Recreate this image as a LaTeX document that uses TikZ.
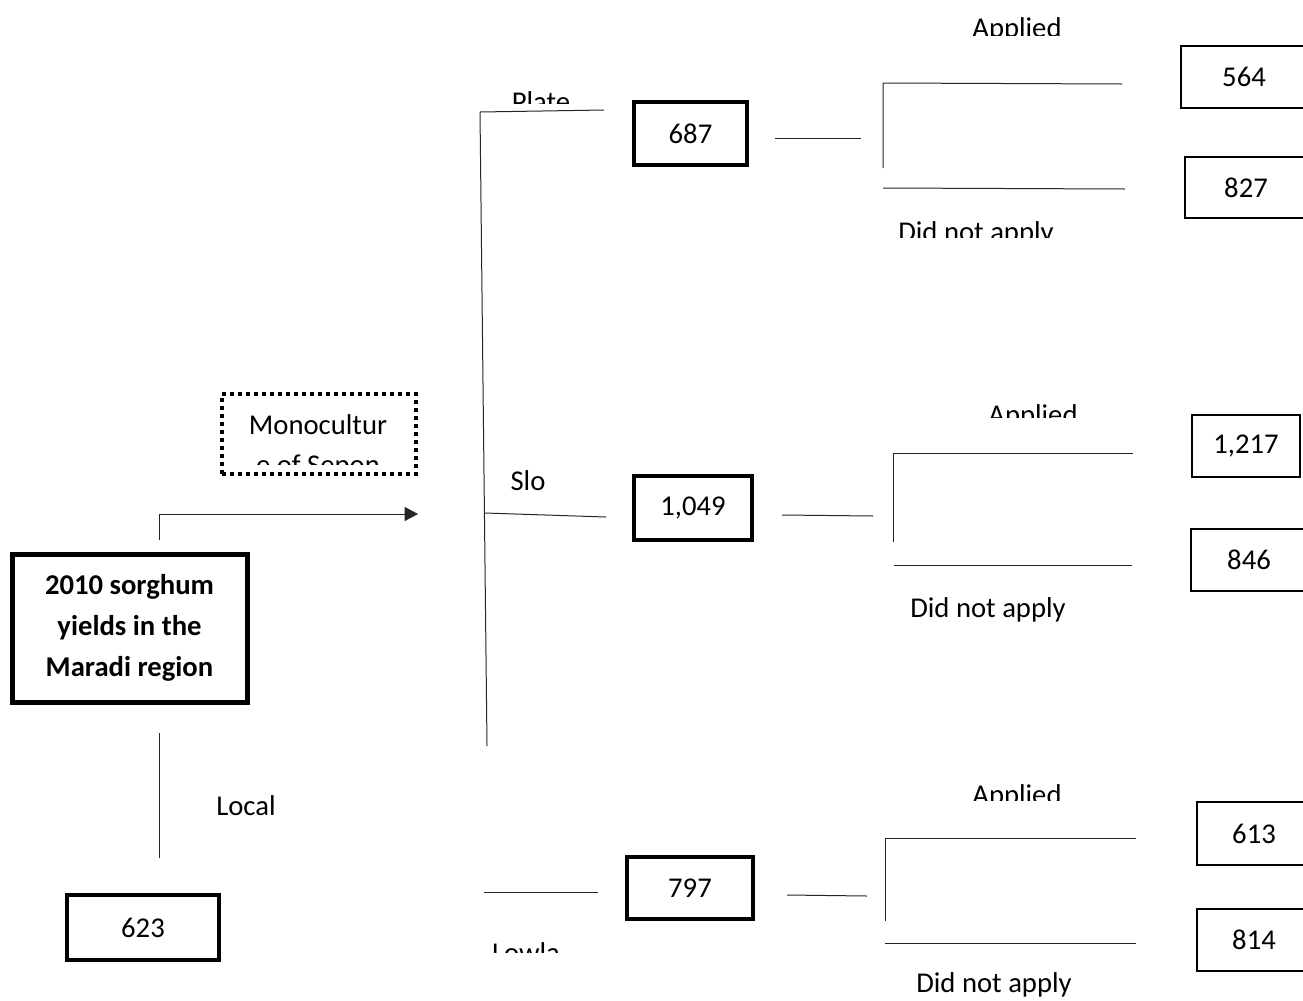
\documentclass[tikz,border=0pt]{standalone}
\usepackage{fontspec}
\setmainfont{Carlito}
\usetikzlibrary{arrows.meta,fit}
\begin{document}
\begin{tikzpicture}[x=0.75pt,y=-0.75pt,
  every node/.style={font=\fontsize{21.5}{30}\selectfont},
  every label/.style={inner sep=0pt, font=\fontsize{21.5}{30}\selectfont},
  thinline/.style={line width=0.75pt, draw=black!85},
  rbox/.style={draw, line width=2pt, inner sep=0pt},
  mbox/.style={draw, line width=3pt, inner sep=0pt},
  lab/.style={anchor=base, inner sep=0pt},
]
\useasboundingbox (0,0) rectangle (1303,1000);

% main box and its branches
\node (main) [draw, line width=3.75pt, inner sep=0pt, fit={(12,554) (247,702)},
  label={[align=center, font=\fontsize{21.5}{30.75}\selectfont\bfseries]center:2010 sorghum\\yields in the\\Maradi region}] {};
\node (b623) [mbox, line width=2.8pt, fit={(67,895) (219,960)}, label=center:623] {};
\coordinate (a0) at (159,540);
\coordinate (a1) at (418,514);
\draw[thinline,-{Triangle[length=10pt,width=10.5pt]}] (a0) |- (a1);
\coordinate (l0) at (159,733);
\coordinate (l1) at (159,858);
\draw[thinline] (l0) -- (l1);
\node (local) [lab] at (246,815) {Local};

% dotted box
\node (mono) [draw, line width=3pt, dash pattern=on 3pt off 3pt, inner sep=0pt, fit={(222,394) (416,474)}] {};
\node (monoA) [lab] at (318,434) {Monocultur};
\begin{scope}
\clip (226,440) rectangle (412,464);
\node (monoB) [lab] at (318,474) {e of Sepon};
\end{scope}

% trunk
\coordinate (t0) at (480,112);
\coordinate (t1) at (487,746);
\coordinate (p1) at (604,110);
\coordinate (s0) at (485,513);
\coordinate (s1) at (606,517);
\coordinate (w0) at (484,892);
\coordinate (w1) at (598,892);
\draw[thinline] (t0) -- (t1);
\draw[thinline] (t0) -- (p1);
\draw[thinline] (s0) -- (s1);
\draw[thinline] (w0) -- (w1);

\begin{scope}
\clip (490,80) rectangle (600,103);
\node (plate) [lab] at (541,111) {Plate};
\end{scope}
\node (slo) [lab] at (528,490) {Slo};
\begin{scope}
\clip (480,930) rectangle (600,952);
\node (lowla) [lab] at (526,962) {Lowla};
\end{scope}

% middle boxes
\node (b687) [mbox, line width=3pt, fit={(634,102) (747,165)}, label=center:687] {};
\node (b1049) [mbox, line width=2.6pt, fit={(634,476) (752,540)}, label=center:{1,049}] {};
\node (b797) [mbox, line width=3pt, fit={(627,857) (753,919)}, label=center:797] {};

% group 1
\coordinate (g1a) at (775,138); \coordinate (g1b) at (861,138);
\draw[thinline] (g1a) -- (g1b);
\coordinate (g1t) at (1122,84); \coordinate (g1c) at (883,83); \coordinate (g1d) at (883,168);
\draw[thinline] (g1t) -- (g1c) -- (g1d);
\coordinate (g1e) at (883,188); \coordinate (g1f) at (1125,189);
\draw[thinline] (g1e) -- (g1f);
\begin{scope}
\clip (940,0) rectangle (1100,35);
\node (ap1) [lab] at (1017,37) {Applied};
\end{scope}
\begin{scope}
\clip (880,200) rectangle (1080,237);
\node (dn1) [lab] at (976,241) {Did not apply};
\end{scope}
\node (b564) [rbox, fit={(1181,46) (1307,108)}, label=center:564] {};
\node (b827) [rbox, fit={(1185,157) (1307,218)}, label=center:827] {};

% group 2
\coordinate (g2a) at (782,515); \coordinate (g2b) at (873,516);
\draw[thinline] (g2a) -- (g2b);
\coordinate (g2t) at (1133,453); \coordinate (g2c) at (893,453); \coordinate (g2d) at (893,542);
\draw[thinline] (g2t) -- (g2c) -- (g2d);
\coordinate (g2e) at (894,565); \coordinate (g2f) at (1132,565);
\draw[thinline] (g2e) -- (g2f);
\begin{scope}
\clip (950,380) rectangle (1120,417);
\node (ap2) [lab] at (1033,424) {Applied};
\end{scope}
\node (dn2) [lab] at (988,617) {Did not apply};
\node (b1217) [rbox, fit={(1192,415) (1300,477)}, label=center:{1,217}] {};
\node (b846) [rbox, fit={(1191,529) (1307,591)}, label=center:846] {};

% group 3
\coordinate (g3a) at (787,895); \coordinate (g3b) at (867,896);
\draw[thinline] (g3a) -- (g3b);
\coordinate (g3t) at (1136,838); \coordinate (g3c) at (885,838); \coordinate (g3d) at (885,921);
\draw[thinline] (g3t) -- (g3c) -- (g3d);
\coordinate (g3e) at (885,943); \coordinate (g3f) at (1136,943);
\draw[thinline] (g3e) -- (g3f);
\begin{scope}
\clip (940,760) rectangle (1100,800);
\node (ap3) [lab] at (1017,804) {Applied};
\end{scope}
\node (dn3) [lab] at (994,992) {Did not apply};
\node (b613) [rbox, fit={(1197,802) (1311,865)}, label=center:613] {};
\node (b814) [rbox, fit={(1197,909) (1311,971)}, label=center:814] {};
\end{tikzpicture}
\end{document}
